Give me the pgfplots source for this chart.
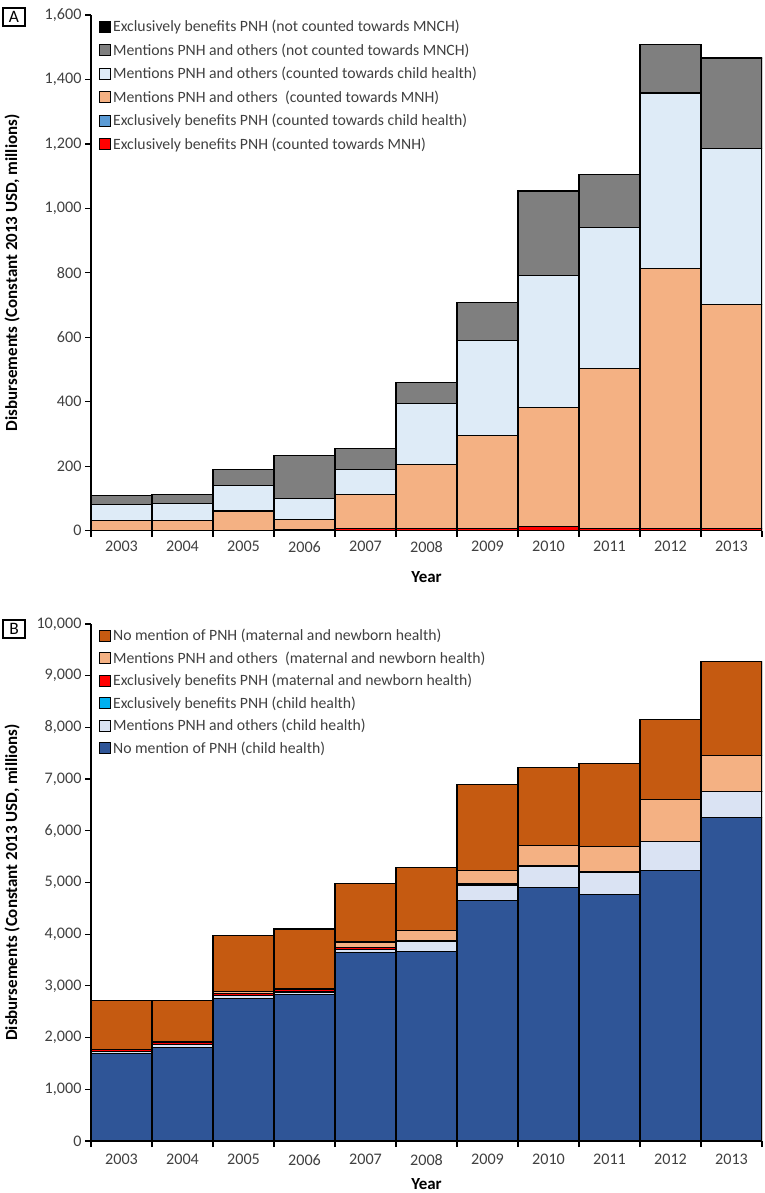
\documentclass[border=0pt]{standalone}
\usepackage{fontspec}
\setmainfont{Carlito}
\usepackage{pgfplots}
\pgfplotsset{compat=1.18}

\definecolor{aRed}{HTML}{FF0000}
\definecolor{aBlue}{HTML}{5B9BD5}
\definecolor{aOrange}{HTML}{F4B183}
\definecolor{aLight}{HTML}{DEEBF7}
\definecolor{aGray}{HTML}{7F7F7F}
\definecolor{bNavy}{HTML}{2F5597}
\definecolor{bLight}{HTML}{DAE3F3}
\definecolor{bCyan}{HTML}{00B0F0}
\definecolor{bRed}{HTML}{FF0000}
\definecolor{bLOrange}{HTML}{F4B183}
\definecolor{bDOrange}{HTML}{C55A11}
\definecolor{txt}{HTML}{404040}

\newcommand{\tfont}{\fontsize{16.2}{19}\selectfont}
\newcommand{\gfont}{\fontsize{15.8}{18.5}\selectfont}
\newcommand{\lfont}{\fontsize{17}{20}\selectfont\bfseries}

\pgfplotsset{
  panel/.style={
    scale only axis, width=671bp,
    xmin=-0.5, xmax=10.5, ymin=0,
    axis x line*=bottom, axis y line*=left,
    axis line style={line width=1.4bp, black},
    major tick style={line width=1.2bp, black},
    tick align=outside, major tick length=6bp,
    ybar stacked, bar width=1,
    xtick={-0.5,0.5,1.5,2.5,3.5,4.5,5.5,6.5,7.5,8.5,9.5,10.5},
    x tick label as interval,
    xticklabels={2003,2004,2005,2006,2007,2008,2009,2010,2011,2012,2013,{}},
    scaled y ticks=false,
    tick label style={font=\tfont, text=txt},
    xticklabel style={yshift=-1bp},
    /pgf/number format/assume math mode=true,
    yticklabel style={/pgf/number format/.cd, 1000 sep={,}},
    every axis y label/.style={at={(axis description cs:0,0.5)}, xshift=-79bp, rotate=90, anchor=center, font=\lfont},
    every axis x label/.style={at={(axis description cs:0.5,0)}, yshift=-46bp, anchor=center, font=\lfont},
    ylabel={Disbursements (Constant 2013 USD, millions)},
    xlabel={Year},
    every axis plot post/.append style={draw=black, line width=1.1bp,
      legend image code/.code={\draw[##1, line width=0.9bp] (0bp,-5.5bp) rectangle (11bp,5.5bp);}},
    reverse legend,
    legend style={at={(axis description cs:0,1)}, anchor=north west, xshift=5bp, yshift=-1bp,
      draw=none, fill=none, font=\gfont, text=txt, row sep=6.5bp,
      cells={anchor=west}},
  }
}

\begin{document}
\begin{tikzpicture}[x=1bp,y=1bp]
\useasboundingbox (0,0) rectangle (765,1193);

% Panel A
\begin{axis}[panel, at={(91bp,662.3bp)}, anchor=south west, height=515.7bp,
  ymax=1600, ytick={0,200,400,600,800,1000,1200,1400,1600}]
\addplot[fill=aRed] coordinates {(0,1) (1,1) (2,1) (3,1) (4,7) (5,7) (6,7) (7,12) (8,7) (9,7) (10,7)};
\addlegendentry{Exclusively benefits PNH (counted towards MNH)}
\addplot[fill=aBlue] coordinates {(0,0) (1,0) (2,0) (3,2) (4,0) (5,0) (6,0) (7,0) (8,0) (9,0) (10,0)};
\addlegendentry{Exclusively benefits PNH (counted towards child health)}
\addplot[fill=aOrange] coordinates {(0,31) (1,31) (2,60) (3,31) (4,105) (5,197) (6,289) (7,371) (8,495) (9,807) (10,696)};
\addlegendentry{Mentions PNH and others\ \ (counted towards MNH)}
\addplot[fill=aLight] coordinates {(0,48) (1,51) (2,80) (3,66) (4,77) (5,191) (6,295) (7,409) (8,440) (9,544) (10,484)};
\addlegendentry{Mentions PNH and others (counted towards child health)}
\addplot[fill=aGray] coordinates {(0,28) (1,29) (2,49) (3,132) (4,66) (5,65) (6,118) (7,261) (8,164) (9,150) (10,278)};
\addlegendentry{Mentions PNH and others (not counted towards MNCH)}
\addplot[fill=black] coordinates {(0,0) (1,0) (2,0) (3,0) (4,0) (5,0) (6,0) (7,3) (8,0) (9,0) (10,3)};
\addlegendentry{Exclusively benefits PNH (not counted towards MNCH)}
\end{axis}

% Panel B
\begin{axis}[panel, at={(91bp,52bp)}, anchor=south west, height=517bp,
  ymax=10000, ytick={0,1000,2000,3000,4000,5000,6000,7000,8000,9000,10000},
  legend style={row sep=5.5bp},
  xticklabel style={yshift=-3bp},
  every axis x label/.append style={yshift=3bp}]
\addplot[fill=bNavy] coordinates {(0,1700) (1,1810) (2,2750) (3,2825) (4,3640) (5,3670) (6,4660) (7,4910) (8,4770) (9,5240) (10,6265)};
\addlegendentry{No mention of PNH (child health)}
\addplot[fill=bLight] coordinates {(0,30) (1,60) (2,60) (3,50) (4,60) (5,195) (6,290) (7,400) (8,430) (9,545) (10,490)};
\addlegendentry{Mentions PNH and others (child health)}
\addplot[fill=bCyan] coordinates {(0,5) (1,5) (2,10) (3,10) (4,10) (5,10) (6,10) (7,5) (8,5) (9,5) (10,5)};
\addlegendentry{Exclusively benefits PNH (child health)}
\addplot[fill=bRed] coordinates {(0,30) (1,30) (2,30) (3,50) (4,30) (5,10) (6,10) (7,5) (8,5) (9,10) (10,5)};
\addlegendentry{Exclusively benefits PNH (maternal and newborn health)}
\addplot[fill=bLOrange] coordinates {(0,10) (1,10) (2,40) (3,10) (4,110) (5,180) (6,270) (7,390) (8,480) (9,800) (10,690)};
\addlegendentry{Mentions PNH and others\ \ (maternal and newborn health)}
\addplot[fill=bDOrange] coordinates {(0,935) (1,805) (2,1090) (3,1155) (4,1125) (5,1225) (6,1660) (7,1520) (8,1610) (9,1560) (10,1820)};
\addlegendentry{No mention of PNH (maternal and newborn health)}
\end{axis}

\node[draw=black, line width=1.1bp, minimum width=22bp, minimum height=18bp, inner sep=0pt, font=\fontsize{17.5}{20}\selectfont] at (14,1176) {A};
\node[draw=black, line width=1.1bp, minimum width=22bp, minimum height=18bp, inner sep=0pt, font=\fontsize{17.5}{20}\selectfont] at (14,564) {B};
\end{tikzpicture}
\end{document}
